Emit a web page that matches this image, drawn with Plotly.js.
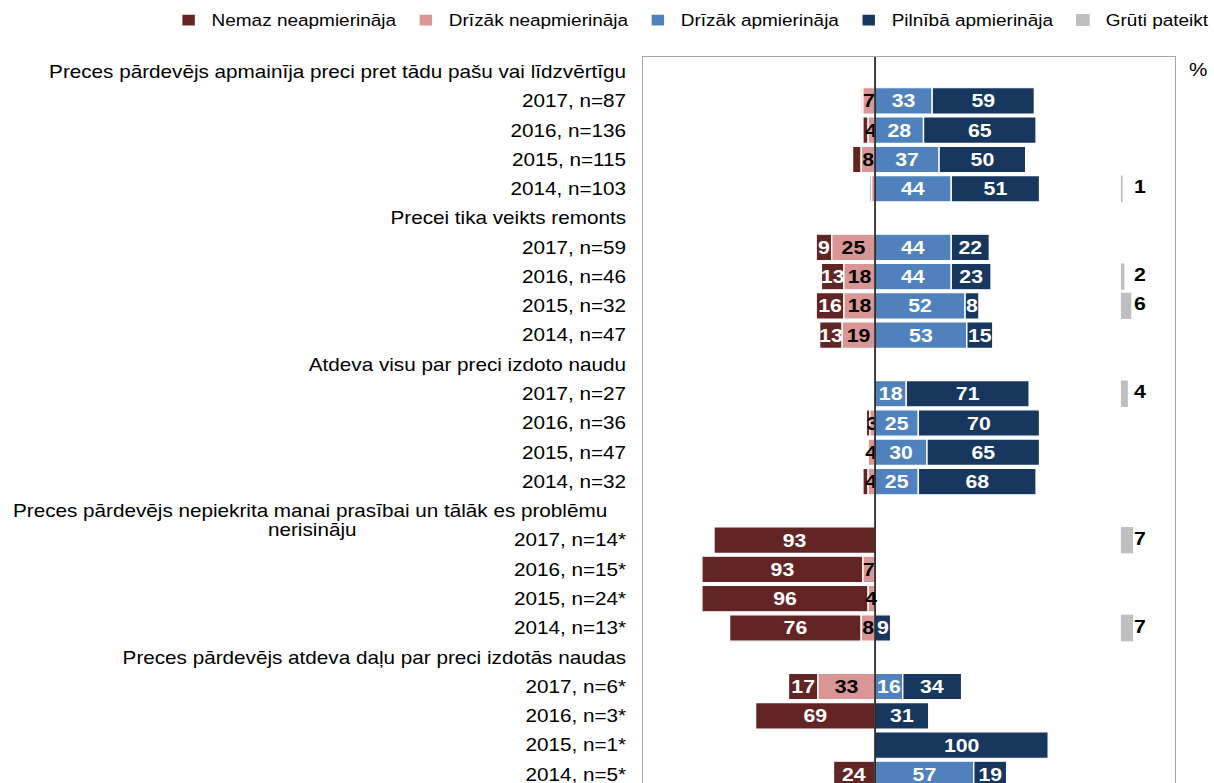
<!DOCTYPE html>
<html>
<head>
<meta charset="utf-8">
<script src="https://cdn.plot.ly/plotly-3.0.1.min.js"></script>
<style>
html, body { margin: 0; padding: 0; overflow: hidden; background: #fff; width: 1214px; height: 783px; }
#chart { width: 1056px; height: 790px; transform-origin: 0 0; }
</style>
</head>
<body>
<div id="chart"></div>
<script>
// ---- data ----
const CATEGORIES = [
  'Preces pārdevējs apmainīja preci pret tādu pašu vai līdzvērtīgu',
  '2017, n=87', '2016, n=136', '2015, n=115', '2014, n=103',
  'Precei tika veikts remonts',
  '2017, n=59', '2016, n=46', '2015, n=32', '2014, n=47',
  'Atdeva visu par preci izdoto naudu',
  '2017, n=27', '2016, n=36', '2015, n=47', '2014, n=32',
  'Preces pārdevējs nepiekrita manai prasībai un tālāk es problēmu nerisināju',
  '2017, n=14*', '2016, n=15*', '2015, n=24*', '2014, n=13*',
  'Preces pārdevējs atdeva daļu par preci izdotās naudas',
  '2017, n=6*', '2016, n=3*', '2015, n=1*', '2014, n=5*'
];
const WRAPPED_HEADER = 'Preces pārdevējs nepiekrita manai prasībai un tālāk es problēmu nerisināju';
const WRAPPED_LINE1 = 'Preces pārdevējs nepiekrita manai prasībai un tālāk es problēmu';
const WRAPPED_LINE2 = 'nerisināju';

const SERIES_NAMES = ['Nemaz neapmierināja', 'Drīzāk neapmierināja', 'Drīzāk apmierināja', 'Pilnībā apmierināja', 'Grūti pateikt'];

const NEMAZ     = [null, 1, 3, 5, 1,  null, 9, 13, 16, 13,  null, 0, 2, 0, 3,  null, 93, 93, 96, 76,  null, 17, 69, 0, 24];
const DRIZAK_NE = [null, 7, 4, 8, 2,  null, 25, 18, 18, 19, null, 0, 3, 4, 4,  null, 0, 7, 4, 8,      null, 33, 0, 0, 0];
const DRIZAK_AP = [null, 33, 28, 37, 44, null, 44, 44, 52, 53, null, 18, 25, 30, 25, null, 0, 0, 0, 0, null, 16, 0, 0, 57];
const PILNIBA   = [null, 59, 65, 50, 51, null, 22, 23, 8, 15, null, 71, 70, 65, 68, null, 0, 0, 0, 9,  null, 34, 31, 100, 19];
const GRUTI     = [null, 0, 0, 0, 1,  null, 0, 2, 6, 0,   null, 4, 0, 0, 0,   null, 7, 0, 0, 7,     null, 0, 0, 0, 0];

// labels that are not printed in the original
const HIDE_NEMAZ = [1, 2, 3, 4, 12, 14];
const HIDE_DRIZAK_NE = [4];

// ---- styling ----
const FONT = 'Liberation Sans, Arial, sans-serif';
const STRETCH = 1.15;
const COLORS = ['#632523', '#D99694', '#4F81BD', '#17375E', '#BFBFBF'];
const GRUTI_BASE = 142;
const GRUTI_LABEL_X = 153;

function labels(vals, hide) {
  return vals.map((v, i) => (v && !hide.includes(i)) ? String(v) : '');
}
function barTrace(idx, vals, sign, textColor, hide) {
  return {
    type: 'bar', orientation: 'h', name: SERIES_NAMES[idx],
    y: CATEGORIES, x: vals.map(v => v ? sign * v : null),
    marker: { color: COLORS[idx], line: { color: '#ffffff', width: 1.2 } },
    text: labels(vals, hide), textposition: 'inside', insidetextanchor: 'middle', textangle: 0,
    textfont: { family: FONT, size: 18.5, color: textColor, weight: 'bold' },
    legendrank: idx + 1, hoverinfo: 'skip', cliponaxis: false
  };
}

// "Nemaz" sits to the left of "Drīzāk neapmierināja": its base is the end of that segment.
// It is drawn first so that the overflowing labels of the small pink segments stay visible.
const nemazTrace = barTrace(0, NEMAZ, -1, '#ffffff', HIDE_NEMAZ);
nemazTrace.base = DRIZAK_NE.map(v => v ? -v : 0);

const traces = [
  nemazTrace,
  barTrace(1, DRIZAK_NE, -1, '#000000', HIDE_DRIZAK_NE),
  barTrace(2, DRIZAK_AP, 1, '#ffffff', []),
  barTrace(3, PILNIBA, 1, '#ffffff', []),
  {
    type: 'bar', orientation: 'h', name: SERIES_NAMES[4],
    y: CATEGORIES, x: GRUTI.map(v => v ? v : null), base: GRUTI_BASE,
    marker: { color: COLORS[4], line: { width: 0 } },
    legendrank: 5, hoverinfo: 'skip', cliponaxis: false
  },
  {
    type: 'scatter', mode: 'text', showlegend: false, hoverinfo: 'skip',
    y: CATEGORIES, x: CATEGORIES.map(() => GRUTI_LABEL_X),
    text: GRUTI.map(v => v ? String(v) : ''), textposition: 'middle center',
    textfont: { family: FONT, size: 18.5, color: '#000000', weight: 'bold' }, cliponaxis: false
  }
];

const TICK_TEXT = CATEGORIES.map(c => c === WRAPPED_HEADER ? '' : c);

const layout = {
  width: 1056, height: 790,
  margin: { l: 559, r: 34, t: 57, b: 1, pad: 0 },
  barmode: 'relative', bargap: 0.1,
  paper_bgcolor: '#ffffff', plot_bgcolor: '#ffffff',
  font: { family: FONT, size: 18, color: '#000000' },
  xaxis: {
    range: [-134.1, 173.4], showgrid: false, zeroline: false, showticklabels: false,
    showline: true, mirror: true, linecolor: '#A6A6A6', linewidth: 1, ticks: '', fixedrange: true
  },
  yaxis: {
    type: 'category', categoryorder: 'array', categoryarray: CATEGORIES,
    range: [CATEGORIES.length - 0.5, -0.5], autorange: false,
    tickmode: 'array', tickvals: CATEGORIES, ticktext: TICK_TEXT,
    ticks: 'outside', ticklen: 10, tickcolor: 'rgba(0,0,0,0)',
    showline: true, mirror: true, linecolor: '#A6A6A6', linewidth: 1,
    showgrid: false, zeroline: false, automargin: false, fixedrange: true,
    tickfont: { family: FONT, size: 18, color: '#000000' }
  },
  showlegend: true,
  legend: {
    orientation: 'h', xref: 'paper', yref: 'paper',
    x: -0.8885, xanchor: 'left', y: 1.074, yanchor: 'top',
    font: { family: FONT, size: 16.5, color: '#000000' },
    traceorder: 'normal', itemwidth: 30, bgcolor: 'rgba(0,0,0,0)'
  },
  uniformtext: { mode: 'show', minsize: 18.5 },
  shapes: [{
    type: 'line', xref: 'x', yref: 'paper', x0: 0, x1: 0, y0: 0, y1: 1,
    line: { color: '#000000', width: 1.3 }, layer: 'above'
  }],
  annotations: [
    { text: WRAPPED_LINE1, xref: 'paper', x: -0.0618, xanchor: 'right', yref: 'y', y: WRAPPED_HEADER, yanchor: 'middle',
      showarrow: false, font: { family: FONT, size: 18, color: '#000000' } },
    { text: WRAPPED_LINE2, xref: 'paper', x: -0.6199, xanchor: 'center', yref: 'y', y: WRAPPED_HEADER, yanchor: 'middle', yshift: -19,
      showarrow: false, font: { family: FONT, size: 18, color: '#000000' } },
    { text: '%', xref: 'paper', x: 1.0426, xanchor: 'center', yref: 'paper', y: 0.982, yanchor: 'middle',
      showarrow: false, font: { family: FONT, size: 18, color: '#000000' } }
  ]
};

const chart = document.getElementById('chart');
Plotly.newPlot(chart, traces, layout, { displayModeBar: false, staticPlot: true }).then(() => {
  chart.style.transform = 'scaleX(' + STRETCH + ')';
});
</script>
</body>
</html>
